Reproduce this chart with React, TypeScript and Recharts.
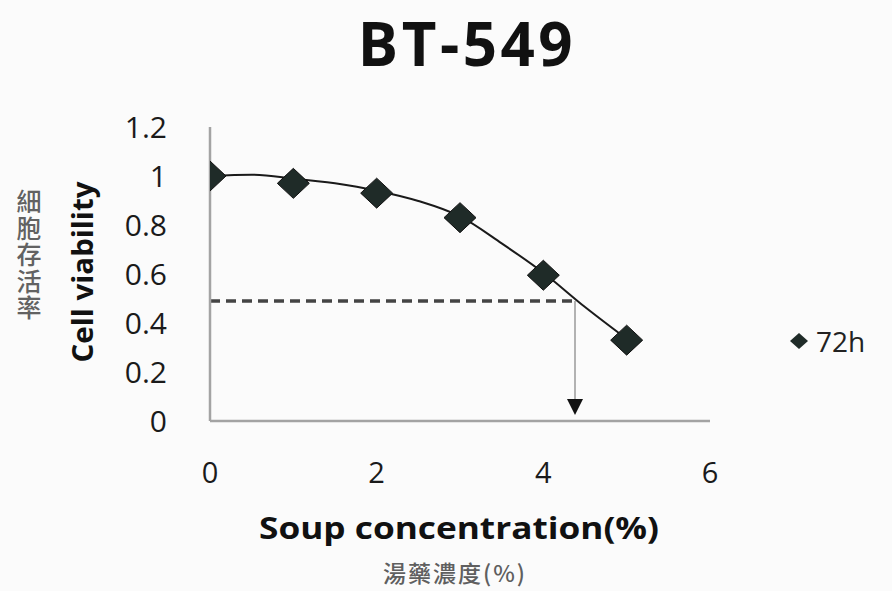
import React from 'react';
import {
  ComposedChart,
  Line,
  Scatter,
  XAxis,
  YAxis,
  ReferenceLine,
  ReferenceDot,
  Legend,
} from 'recharts';

// ---- data ----
const concentrations = [0, 1, 2, 3, 4, 5];
const viability72h = [1.0, 0.97, 0.93, 0.83, 0.595, 0.33];

const trendConc = [0, 0.5, 1, 1.5, 2, 2.5, 3, 3.5, 4, 4.5, 5];
const trendViability = [1.0, 1.005, 0.99, 0.97, 0.94, 0.898, 0.835, 0.725, 0.605, 0.465, 0.335];

const xTicks = [0, 2, 4, 6];
const yTicks = [0, 0.2, 0.4, 0.6, 0.8, 1, 1.2];

const ic50Level = 0.49;
const ic50Conc = 4.38;
const arrowHeadY = 0.057;
const arrowLineEndY = 0.08;

const seriesName = '72h';

const points = concentrations.map((x, i) => ({ x, y: viability72h[i] }));
const trend = trendConc.map((x, i) => ({ x, y: trendViability[i] }));

const W = 892;
const H = 591;
const FONT = '"Open Sans", sans-serif';

const DiamondShape = (props: any) => {
  const { cx, cy } = props;
  if (cx == null || cy == null) return null;
  const hw = 16;
  const hh = 15;
  return (
    <polygon
      points={`${cx},${cy - hh} ${cx + hw},${cy} ${cx},${cy + hh} ${cx - hw},${cy}`}
      fill="#1f2b28"
      stroke="#111"
      strokeWidth={1}
    />
  );
};

const ArrowHead = (props: any) => {
  const { cx, cy } = props;
  if (cx == null || cy == null) return null;
  return (
    <polygon
      points={`${cx - 8},${cy - 8} ${cx + 8},${cy - 8} ${cx},${cy + 8}`}
      fill="#111"
    />
  );
};

const LegendContent = () => (
  <div style={{ display: 'flex', alignItems: 'center', fontFamily: FONT }}>
    <svg width={22} height={20} style={{ marginRight: 6 }}>
      <polygon points="11,2 20,10 11,18 2,10" fill="#1f2b28" />
    </svg>
    <span style={{ fontSize: 28, color: '#222', lineHeight: '30px' }}>{seriesName}</span>
  </div>
);

export default function App() {
  return (
    <div style={{ position: 'absolute', left: 0, top: 0, width: W, height: H, background: '#fbfbfb' }}>
      <ComposedChart
        width={W}
        height={H}
        margin={{ top: 127, right: 182, bottom: 110, left: 150 }}
      >
        <XAxis
          type="number"
          dataKey="x"
          domain={[0, 6]}
          ticks={xTicks}
          axisLine={{ stroke: '#a3a3a3', strokeWidth: 2.5 }}
          tickLine={false}
          tickSize={0}
          tickMargin={41}
          height={60}
          tick={{ fontSize: 29, fill: '#1a1a1a', fontFamily: FONT }}
          allowDataOverflow
        />
        <YAxis
          type="number"
          dataKey="y"
          domain={[0, 1.2]}
          ticks={yTicks}
          axisLine={{ stroke: '#a3a3a3', strokeWidth: 2.5 }}
          tickLine={false}
          tickSize={0}
          tickMargin={43}
          width={60}
          tick={{ fontSize: 30, fill: '#1a1a1a', fontFamily: FONT }}
          allowDataOverflow
        />
        <ReferenceLine
          segment={[
            { x: 0, y: ic50Level },
            { x: ic50Conc, y: ic50Level },
          ]}
          stroke="#444"
          strokeWidth={3.5}
          strokeDasharray="10 6"
        />
        <ReferenceLine
          segment={[
            { x: ic50Conc, y: ic50Level },
            { x: ic50Conc, y: arrowLineEndY },
          ]}
          stroke="#9a9a9a"
          strokeWidth={1.5}
        />
        <ReferenceDot x={ic50Conc} y={arrowHeadY} shape={ArrowHead} />
        <Line
          data={trend}
          dataKey="y"
          type="monotone"
          stroke="#1a1a1a"
          strokeWidth={2}
          dot={false}
          activeDot={false}
          legendType="none"
          isAnimationActive={false}
        />
        <Scatter
          data={points}
          dataKey="y"
          name={seriesName}
          shape={DiamondShape}
          isAnimationActive={false}
        />
        <Legend
          layout="horizontal"
          verticalAlign="middle"
          align="center"
          content={LegendContent}
          wrapperStyle={{ left: 788, top: 326, width: 110 }}
        />
      </ComposedChart>
      <svg
        width={W}
        height={H}
        style={{ position: 'absolute', left: 0, top: 0, pointerEvents: 'none' }}
      >
        <text
          x={467}
          y={66}
          textAnchor="middle"
          fontSize={60}
          fontWeight={700}
          letterSpacing={3.5}
          fontFamily={FONT}
          fill="#111"
        >
          BT-549
        </text>
        <text
          transform="translate(93,272) rotate(-90)"
          textAnchor="middle"
          fontSize={29}
          fontWeight={700}
          fontFamily={FONT}
          fill="#111"
          textLength={181}
          lengthAdjust="spacingAndGlyphs"
        >
          Cell viability
        </text>
        <text
          x={459}
          y={539}
          textAnchor="middle"
          fontSize={30}
          fontWeight={700}
          fontFamily={FONT}
          fill="#111"
          textLength={400}
          lengthAdjust="spacingAndGlyphs"
        >
          Soup concentration(%)
        </text>
        <text
          x={455}
          y={582}
          textAnchor="middle"
          fontSize={23}
          fontWeight={500}
          letterSpacing={2}
          fontFamily='"Noto Sans CJK TC", sans-serif'
          fill="#5f5f5f"
        >
          湯藥濃度(%)
        </text>
      </svg>
      <div
        style={{
          position: 'absolute',
          left: 14,
          top: 189,
          writingMode: 'vertical-rl',
          fontSize: 25,
          lineHeight: '30px',
          letterSpacing: 1.5,
          fontWeight: 500,
          color: '#626262',
          fontFamily: '"Noto Sans CJK TC", sans-serif',
        }}
      >
        細胞存活率
      </div>
    </div>
  );
}
